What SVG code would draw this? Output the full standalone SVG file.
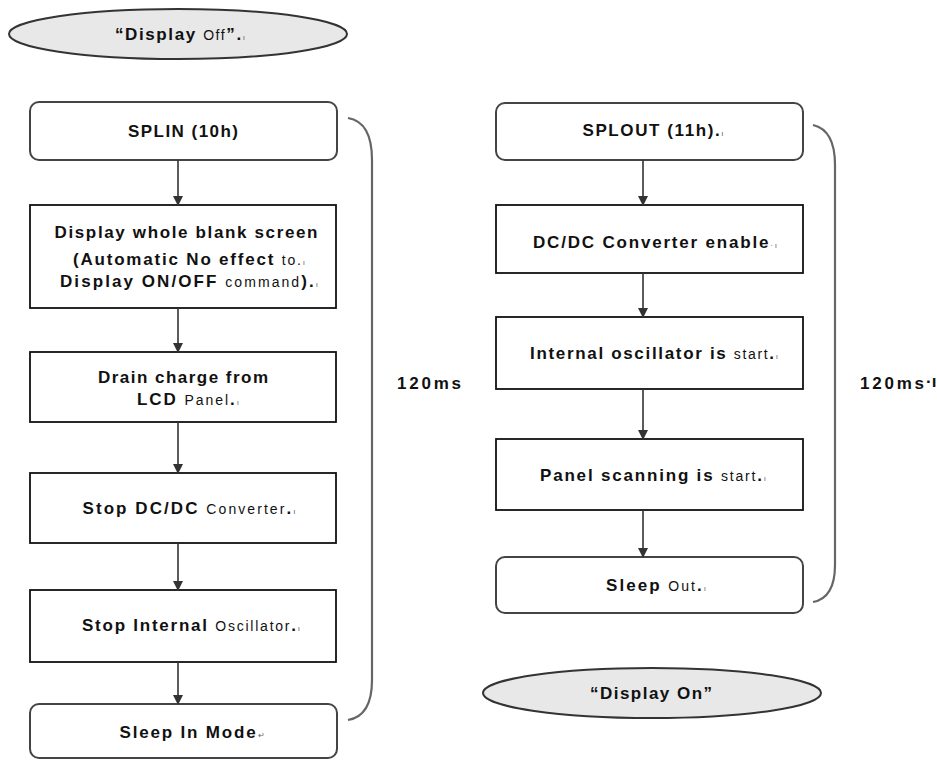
<svg xmlns="http://www.w3.org/2000/svg" width="937" height="760" viewBox="0 0 937 760">
<defs>
<marker id="ah" markerWidth="10" markerHeight="10" refX="9" refY="5" orient="auto" markerUnits="userSpaceOnUse">
<path d="M0,0 L10,5 L0,10 Z" fill="#333"/>
</marker>
<style>
.term{fill:#e8e8e8;stroke:#333;stroke-width:2}
.rbox{fill:#fff;stroke:#444;stroke-width:2}
.box{fill:#fff;stroke:#111;stroke-width:1.8}
.t{font-family:"Liberation Sans",Arial,sans-serif;font-weight:bold;font-size:17px;fill:#111;text-anchor:middle}
.s{font-size:14px;font-weight:normal}
.m{font-size:8px;font-weight:normal;fill:#666}
.conn line{stroke:#333;stroke-width:1.6;marker-end:url(#ah)}
.br{fill:none;stroke:#666;stroke-width:2.2}
.lbl{font-family:"Liberation Sans",Arial,sans-serif;font-weight:bold;font-size:17px;fill:#111}
</style>
</defs>
<rect width="937" height="760" fill="#fff"/>

<g id="display-off">
<ellipse class="term" cx="178" cy="34" rx="169" ry="25"/>
<text class="t" x="180" y="40" textLength="130">“Display <tspan class="s">Off</tspan>”.<tspan class="m">ı</tspan></text>
</g>

<g id="splin">
<rect class="rbox" x="30" y="102" width="307" height="58" rx="9"/>
<text class="t" x="183" y="137" textLength="110">SPLIN (10h)</text>
</g>
<g id="blank-screen">
<rect class="box" x="30" y="205" width="306" height="103"/>
<text class="t" x="186" y="238" textLength="263">Display whole blank screen</text>
<text class="t" x="189" y="265" textLength="232">(Automatic No effect <tspan class="s">to.</tspan><tspan class="m">ı</tspan></text>
<text class="t" x="189" y="287" textLength="258">Display ON/OFF <tspan class="s">command</tspan>).<tspan class="m">ı</tspan></text>
</g>
<g id="drain">
<rect class="box" x="30" y="352" width="306" height="70"/>
<text class="t" x="183" y="383" textLength="170">Drain charge from</text>
<text class="t" x="188" y="405" textLength="102">LCD <tspan class="s">Panel</tspan>.<tspan class="m">ı</tspan></text>
</g>
<g id="stop-dcdc">
<rect class="box" x="30" y="473" width="306" height="70"/>
<text class="t" x="189" y="514" textLength="213">Stop DC/DC <tspan class="s">Converter</tspan>.<tspan class="m">ı</tspan></text>
</g>
<g id="stop-osc">
<rect class="box" x="30" y="590" width="306" height="72"/>
<text class="t" x="191" y="631" textLength="218">Stop Internal <tspan class="s">Oscillator</tspan>.<tspan class="m">ı</tspan></text>
</g>
<g id="sleep-in">
<rect class="rbox" x="30" y="704" width="307" height="54" rx="9"/>
<text class="t" x="192" y="738" textLength="145">Sleep In Mode<tspan class="m">↵</tspan></text>
</g>

<g id="splout">
<rect class="rbox" x="496" y="103" width="307" height="57" rx="9"/>
<text class="t" x="653" y="136" textLength="141">SPLOUT (11h).<tspan class="m">ı</tspan></text>
</g>
<g id="dcdc-enable">
<rect class="box" x="496" y="205" width="307" height="68"/>
<text class="t" x="655" y="248" textLength="244">DC/DC Converter enable<tspan class="m">·ı</tspan></text>
</g>
<g id="osc-start">
<rect class="box" x="496" y="317" width="307" height="72"/>
<text class="t" x="654" y="359" textLength="248">Internal oscillator is <tspan class="s">start</tspan>.<tspan class="m">ı</tspan></text>
</g>
<g id="scan-start">
<rect class="box" x="496" y="439" width="307" height="71"/>
<text class="t" x="653" y="481" textLength="226">Panel scanning is <tspan class="s">start</tspan>.<tspan class="m">ı</tspan></text>
</g>
<g id="sleep-out">
<rect class="rbox" x="496" y="557" width="307" height="56" rx="9"/>
<text class="t" x="656" y="591" textLength="100">Sleep <tspan class="s">Out</tspan>.<tspan class="m">ı</tspan></text>
</g>

<g id="display-on">
<ellipse class="term" cx="652" cy="693" rx="169" ry="25"/>
<text class="t" x="651" y="699" textLength="122">“Display On”</text>
</g>

<g id="connectors" class="conn">
<line x1="178" y1="160" x2="178" y2="205"/>
<line x1="178" y1="308" x2="178" y2="352"/>
<line x1="178" y1="422" x2="178" y2="473"/>
<line x1="178" y1="543" x2="178" y2="590"/>
<line x1="178" y1="662" x2="178" y2="704"/>
<line x1="643" y1="160" x2="643" y2="205"/>
<line x1="643" y1="273" x2="643" y2="317"/>
<line x1="643" y1="389" x2="643" y2="439"/>
<line x1="643" y1="510" x2="643" y2="557"/>
</g>

<g id="bracket-left">
<path class="br" d="M348,118 Q372,122 372,160 L372,680 Q372,716 348,720"/>
<text class="lbl" x="397" y="389" textLength="64">120ms</text>
</g>
<g id="bracket-right">
<path class="br" d="M813,125 Q835,130 835,165 L835,565 Q835,598 813,602"/>
<text class="lbl" x="860" y="389" textLength="64">120ms</text><text class="lbl m" x="926" y="387">·ı</text>
</g>
</svg>
